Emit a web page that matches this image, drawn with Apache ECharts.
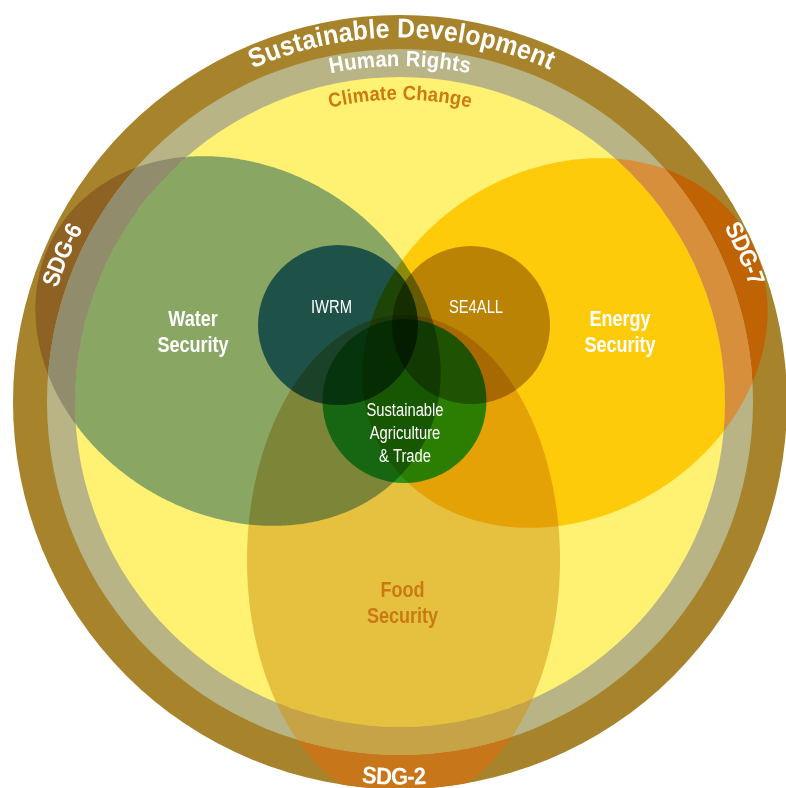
<!DOCTYPE html>
<html><head><meta charset="utf-8">
<script src="https://cdn.jsdelivr.net/npm/echarts@6/dist/echarts.min.js"></script>
<style>html,body{margin:0;padding:0;background:#fff}#c{width:786px;height:788px}</style>
</head><body><div id="c"></div>
<script>
// ---------------- data (diagram units, origin = centre of the rings, y up) ----------------
const ringNames = ['Sustainable Development', 'Human Rights', 'Climate Change'];
const ringRadii = [387, 353, 325];

const areaNames = ['Water Security', 'Energy Security', 'Food Security'];
// [cx, cy, rx, ry, rotationDeg]
const areaEllipses = [[-162, 61, 212, 174, -31], [165, 59, 212, 174, 31], [3.5, -158, 156.5, 245, 0]];
const areaLabelAnchors = [[-207, 69], [220, 69], [2.5, -202]];

const hubNames = ['IWRM', 'SE4ALL', 'Sustainable\nAgriculture\n& Trade'];
// [cx, cy, r]
const hubCircles = [[-62, 77, 80], [71, 77, 79], [4.5, 1, 82]];
const hubLabelAnchors = [[-68.5, 93.5], [76, 93.5], [5, -32.5]];

const sdgNames = ['SDG-6', 'SDG-7', 'SDG-2'];

// arc labels (ring names + SDG tags)
const arcTexts = ['Sustainable Development', 'Human Rights', 'Climate Change', 'SDG-6', 'SDG-7', 'SDG-2'];
const arcCenters = [89.75, 90, 90, 156.5, 23.3, -90.9];
const arcRadii = [372, 342, 308, 368, 375, 376];

// ---------------- styles ----------------
const ringColors = ['#a7842c', '#b9b486', '#fff172'];
const areaOuterColors = ['#8e6222', '#c06304', '#c77719'];
const areaMiddleColors = ['#908c6c', '#d88f3c', '#c5a346'];
const areaInnerColors = ['#8ab0dd', '#fed716', '#e6cc8f'];
const hubColors = ['#377eb9', '#bba53c', '#2fc650'];
const areaLabelColors = ['#ffffff', '#ffffff', '#c97a12'];
const arcSpans = [312, 142, 144, 66, 66, 64];
const arcFontSizes = [27, 22, 20, 24, 24, 24];
const arcColors = ['#ffffff', '#ffffff', '#cc7a14', '#ffffff', '#ffffff', '#ffffff'];
const arcModes = ['outer', 'outer', 'outer', 'outer', 'outer', 'inner'];
const FONT = '"Liberation Sans", Arimo, Arial, sans-serif';
const NARROW = 0.82;
const ARC_NARROW = 0.92;

// ---------------- geometry helpers ----------------
function ellipsePoint(e, t) {
  const a = e[4] * Math.PI / 180, ct = Math.cos(t), st = Math.sin(t);
  return [e[0] + e[2] * ct * Math.cos(a) - e[3] * st * Math.sin(a),
          e[1] + e[2] * ct * Math.sin(a) + e[3] * st * Math.cos(a)];
}
function inEllipse(e, p) {
  const a = e[4] * Math.PI / 180, dx = p[0] - e[0], dy = p[1] - e[1];
  const u = dx * Math.cos(a) + dy * Math.sin(a), v = -dx * Math.sin(a) + dy * Math.cos(a);
  return (u / e[2]) ** 2 + (v / e[3]) ** 2 <= 1;
}
function clipEllipseToDisk(e, r) {
  const N = 720, pts = [];
  for (let i = 0; i < N; i++) { const p = ellipsePoint(e, 2 * Math.PI * i / N); if (p[0] * p[0] + p[1] * p[1] <= r * r) pts.push(p); }
  for (let i = 0; i < N; i++) { const t = 2 * Math.PI * i / N, p = [r * Math.cos(t), r * Math.sin(t)]; if (inEllipse(e, p)) pts.push(p); }
  if (!pts.length) return [];
  let cx = 0, cy = 0; pts.forEach(p => { cx += p[0]; cy += p[1]; }); cx /= pts.length; cy /= pts.length;
  pts.sort((p, q) => Math.atan2(p[1] - cy, p[0] - cx) - Math.atan2(q[1] - cy, q[0] - cx));
  return pts;
}

// ---------------- layer lists built from the arrays ----------------
// opaque layers: ring disks and the parts of the areas lying on the two outer rings
const baseLayers = [];
ringRadii.forEach((r, k) => {
  baseLayers.push({ type: 'disk', r: r, fill: ringColors[k] });
  if (k < 2) areaEllipses.forEach((e, i) => {
    baseLayers.push({ type: 'clip', e: e, r: r, fill: k === 0 ? areaOuterColors[i] : areaMiddleColors[i] });
  });
});
// multiplied layers inside the Climate Change disk
const mixLayers = [];
areaEllipses.forEach((e, i) => mixLayers.push({ type: 'clip', e: e, r: ringRadii[2], fill: areaInnerColors[i] }));
hubCircles.forEach((c, i) => mixLayers.push({ type: 'hub', c: c, fill: hubColors[i] }));

function makeShapeRenderer(list) {
  return function (params, api) {
    const L = list[params.dataIndex], z2 = params.dataIndex;
    if (L.type === 'disk') {
      const o = api.coord([0, 0]), rp = api.size([L.r, 0])[0];
      return { type: 'circle', z2: z2, shape: { cx: o[0], cy: o[1], r: rp }, style: { fill: L.fill } };
    }
    if (L.type === 'clip') {
      const pts = clipEllipseToDisk(L.e, L.r).map(p => api.coord(p));
      return { type: 'polygon', z2: z2, shape: { points: pts }, style: { fill: L.fill } };
    }
    const o = api.coord([L.c[0], L.c[1]]), rp = api.size([L.c[2], 0])[0];
    return { type: 'circle', z2: z2, shape: { cx: o[0], cy: o[1], r: rp }, style: { fill: L.fill } };
  };
}

// labels
const labels = [];
areaNames.forEach((n, i) => labels.push({ text: n.replace(' ', '\n'), at: areaLabelAnchors[i], font: 'bold 22px ' + FONT, lh: 26, fill: areaLabelColors[i] }));
hubNames.forEach((n, i) => labels.push({ text: n, at: hubLabelAnchors[i], font: '18px ' + FONT, lh: 23, fill: '#ffffff' }));

function renderLabel(params, api) {
  const L = labels[params.dataIndex], p = api.coord(L.at);
  return { type: 'text', x: p[0], y: p[1], scaleX: NARROW, z2: 100,
    style: { text: L.text, font: L.font, fill: L.fill, lineHeight: L.lh, align: 'center', verticalAlign: 'middle', textAlign: 'center', textVerticalAlign: 'middle' } };
}

const measureCtx = document.createElement('canvas').getContext('2d');
function renderArc(params, api) {
  const k = params.dataIndex, text = arcTexts[k], r = arcRadii[k];
  const font = 'bold ' + arcFontSizes[k] + 'px ' + FONT;
  measureCtx.font = font;
  const chars = Array.from(text), widths = chars.map(ch => measureCtx.measureText(ch).width * ARC_NARROW);
  const natural = widths.reduce((a, b) => a + b, 0);
  const gap = chars.length > 1 ? (arcSpans[k] - natural) / (chars.length - 1) : 0;
  const total = natural + gap * (chars.length - 1);
  const dir = arcModes[k] === 'outer' ? -1 : 1;
  const th0 = arcCenters[k] * Math.PI / 180 - dir * (total / 2) / r;
  let acc = 0; const children = [];
  chars.forEach((ch, i) => {
    const s = acc + widths[i] / 2; acc += widths[i] + gap;
    const th = th0 + dir * s / r;
    const p = api.coord([r * Math.cos(th), r * Math.sin(th)]);
    const rot = dir < 0 ? th - Math.PI / 2 : th + Math.PI / 2;
    children.push({ type: 'text', x: p[0], y: p[1], rotation: rot, scaleX: ARC_NARROW, z2: 100,
      style: { text: ch, font: font, fill: arcColors[k], align: 'center', verticalAlign: 'middle', textAlign: 'center', textVerticalAlign: 'middle' } });
  });
  return { type: 'group', children: children };
}

const chart = echarts.init(document.getElementById('c'), null, { renderer: 'canvas', width: 786, height: 788 });
chart.setOption({
  animation: false,
  backgroundColor: '#ffffff',
  grid: { left: 0, right: 0, top: 0, bottom: 0 },
  xAxis: { type: 'value', min: -400, max: 386, show: false },
  yAxis: { type: 'value', min: -386, max: 402, show: false },
  series: [
    { type: 'custom', name: 'rings', z: 1, clip: false, silent: true, renderItem: makeShapeRenderer(baseLayers), data: baseLayers.map((l, i) => [i]) },
    { type: 'custom', name: 'areas and hubs', z: 2, clip: false, silent: true, blendMode: 'multiply', renderItem: makeShapeRenderer(mixLayers), data: mixLayers.map((l, i) => [i]) },
    { type: 'custom', name: 'labels', z: 5, clip: false, silent: true, renderItem: renderLabel, data: labels.map((l, i) => [i]) },
    { type: 'custom', name: 'ring and SDG labels', z: 6, clip: false, silent: true, renderItem: renderArc, data: arcTexts.map((t, i) => [i]) }
  ]
});
</script></body></html>
